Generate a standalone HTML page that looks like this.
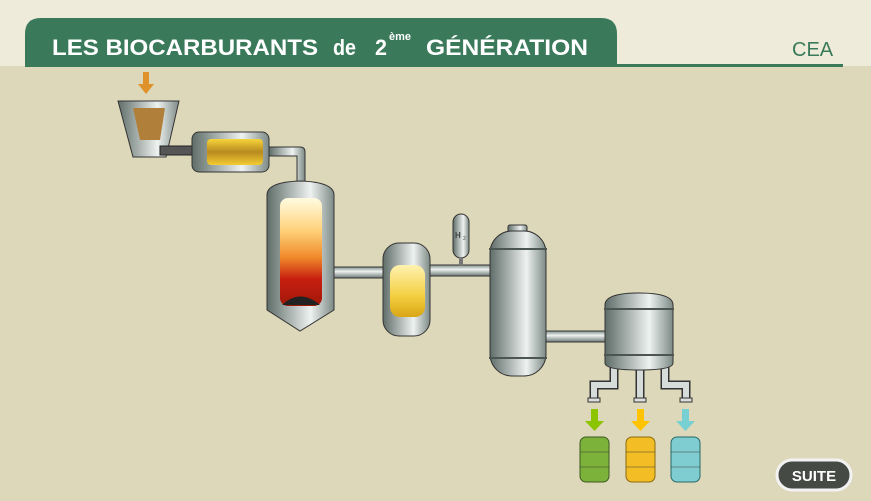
<!DOCTYPE html>
<html><head><meta charset="utf-8"><style>
body{margin:0;width:871px;height:496px;overflow:hidden;background:#ddd8b9;font-family:"Liberation Sans",sans-serif}
</style></head><body>
<svg width="871" height="496" viewBox="0 0 871 496" xmlns="http://www.w3.org/2000/svg">
<defs>
<linearGradient id="m" x1="0" x2="1" y1="0" y2="0">
<stop offset="0" stop-color="#5f6d69"/><stop offset=".65" stop-color="#eef2f0"/><stop offset="1" stop-color="#7d8a86"/></linearGradient>
<linearGradient id="pv" x1="0" x2="0" y1="0" y2="1">
<stop offset="0" stop-color="#7f8c88"/><stop offset=".4" stop-color="#eef2f0"/><stop offset="1" stop-color="#6c7875"/></linearGradient>
<linearGradient id="fire" x1="0" x2="0" y1="0" y2="1">
<stop offset="0" stop-color="#fffbe0"/><stop offset=".3" stop-color="#ffd27a"/><stop offset=".55" stop-color="#f08a2a"/><stop offset=".75" stop-color="#c81f10"/><stop offset="1" stop-color="#a01808"/></linearGradient>
<linearGradient id="yel" x1="0" x2="0" y1="0" y2="1">
<stop offset="0" stop-color="#fff2b0"/><stop offset=".6" stop-color="#f3cf40"/><stop offset="1" stop-color="#d9a515"/></linearGradient>
<linearGradient id="drum" x1="0" x2="0" y1="0" y2="1">
<stop offset="0" stop-color="#f6d53a"/><stop offset=".5" stop-color="#b88a20"/><stop offset="1" stop-color="#f2cc30"/></linearGradient>
</defs>
<rect x="0" y="0" width="871" height="66" fill="#eeebda"/>
<path d="M25 66 V34 Q25 18 41 18 H601 Q617 18 617 34 V66 Z" fill="#3a7a5a"/>
<rect x="25" y="64" width="818" height="3" fill="#3a7a5a"/>
<g font-size="22" font-weight="bold" fill="#fff">
<text x="52" y="55" textLength="266" lengthAdjust="spacingAndGlyphs">LES BIOCARBURANTS</text>
<text x="333" y="55" textLength="23" lengthAdjust="spacingAndGlyphs">de</text>
<text x="375" y="55" textLength="12" lengthAdjust="spacingAndGlyphs">2</text>
<text x="426" y="55" textLength="162" lengthAdjust="spacingAndGlyphs">GÉNÉRATION</text>
</g>
<text x="389" y="40" font-size="11" font-weight="bold" fill="#fff">ème</text>
<text x="792" y="56" font-size="20" fill="#3a7a5a">CEA</text>
<path d="M143 72 h6 v12 h5 l-8 10 l-8 -10 h5z" fill="#e0922a"/>
<path d="M118 101 H179 L166 157 H133 Z" fill="url(#m)" stroke="#333" stroke-width="1"/>
<path d="M133 108 H165 L160 140 H140 Z" fill="#b0803a"/>
<rect x="160" y="146" width="36" height="9" fill="#555" stroke="#222"/>
<rect x="192" y="132" width="77" height="40" rx="7" fill="url(#m)" stroke="#333"/>
<rect x="207" y="139" width="56" height="26" rx="4" fill="url(#drum)"/>
<path d="M269 147 H300 Q305 147 305 152 V186 H297 V156 H269 Z" fill="url(#m)" stroke="#333"/>
<path d="M267 195 Q267 182 300 181 Q334 182 334 195 V310 L300 331 L267 310 Z" fill="url(#m)" stroke="#333"/>
<rect x="280" y="198" width="42" height="108" rx="8" fill="url(#fire)"/>
<path d="M282 305 Q300 288 320 305 Z" fill="#222"/>
<rect x="334" y="267" width="50" height="11" fill="url(#pv)" stroke="#333"/>
<rect x="383" y="243" width="47" height="93" rx="16" fill="url(#m)" stroke="#333"/>
<rect x="390" y="265" width="35" height="52" rx="10" fill="url(#yel)"/>
<rect x="430" y="265" width="66" height="11" fill="url(#pv)" stroke="#333"/>
<rect x="453" y="214" width="16" height="44" rx="8" fill="url(#m)" stroke="#333"/>
<rect x="459" y="257" width="4" height="9" fill="#777"/>
<text x="455" y="238" font-size="8" font-weight="bold" fill="#444">H</text><text x="463" y="240" font-size="5" fill="#444">2</text>
<rect x="508" y="225" width="19" height="8" rx="2" fill="url(#m)" stroke="#333"/>
<rect x="490" y="231" width="56" height="145" rx="22" fill="url(#m)" stroke="#333"/>
<rect x="489" y="248" width="58" height="2" fill="#4b5652"/>
<rect x="489" y="357" width="58" height="2" fill="#4b5652"/>
<rect x="546" y="331" width="60" height="11" fill="url(#pv)" stroke="#333"/>
<g fill="none" stroke="#333" stroke-width="9"><path d="M614 365 V385 H594 V398"/><path d="M640 365 V398"/><path d="M665 365 V385 H686 V398"/></g>
<g fill="none" stroke="#d6dcda" stroke-width="6"><path d="M614 365 V385 H594 V398"/><path d="M640 365 V398"/><path d="M665 365 V385 H686 V398"/></g>
<rect x="588" y="398" width="12" height="4" fill="#ddd" stroke="#333"/><rect x="634" y="398" width="12" height="4" fill="#ddd" stroke="#333"/><rect x="680" y="398" width="12" height="4" fill="#ddd" stroke="#333"/>
<path d="M605 305 Q605 293 639 293 Q673 293 673 305 V363 Q673 370 639 370 Q605 370 605 363 Z" fill="url(#m)" stroke="#333"/>
<rect x="604" y="308" width="70" height="2" fill="#4b5652"/><rect x="604" y="354" width="70" height="2" fill="#4b5652"/>
<path d="M591 409 h7 v12 h6 l-9.5 10 l-9.5 -10 h6z" fill="#8cc400"/>
<path d="M637 409 h7 v12 h6 l-9.5 10 l-9.5 -10 h6z" fill="#ffc300"/>
<path d="M682 409 h7 v12 h6 l-9.5 10 l-9.5 -10 h6z" fill="#78d0d2"/>
<g stroke="#3d5a20"><rect x="580" y="437" width="29" height="45" rx="6" fill="#7cb23a"/></g>
<g stroke="#8a6a10"><rect x="626" y="437" width="29" height="45" rx="6" fill="#f2bd25"/></g>
<g stroke="#256868"><rect x="671" y="437" width="29" height="45" rx="6" fill="#7fcdd0"/></g>
<g stroke="#333" stroke-width=".8" opacity=".6"><path d="M580 452h29M580 467h29M626 452h29M626 467h29M671 452h29M671 467h29"/></g>
<rect x="777" y="460" width="74" height="30" rx="15" fill="#454a45" stroke="#f2f2f2" stroke-width="3"/>
<text x="814" y="481" font-size="15" font-weight="bold" fill="#fff" text-anchor="middle">SUITE</text>
</svg>
</body></html>
